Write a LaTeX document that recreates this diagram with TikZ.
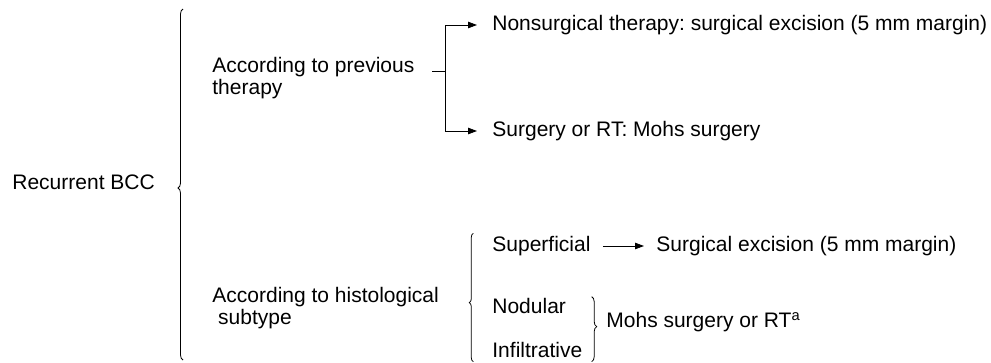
\documentclass[tikz,border=0pt]{standalone}
\usepackage{fontspec}
\setmainfont{Liberation Sans}
\frenchspacing
\usetikzlibrary{arrows.meta,decorations.pathreplacing}
\begin{document}
\begin{tikzpicture}[x=1pt,y=-1pt,line width=0.8pt,
        txt/.style={anchor=west,inner sep=0pt,align=left,font=\fontsize{21}{22}\selectfont},
        arr/.style={-{Triangle[length=9pt,width=6.5pt]}},
        brc/.style={decorate,decoration={brace,amplitude=#1}}]
    \useasboundingbox (0,0) rectangle (991,362);
    \node[txt] (bcc) at (12,182) {Recurrent BCC};
    \draw[brc=5pt,decoration={aspect=0.49}] (183,360) -- (183,9);
    \node[txt] (prev) at (212,78) {According to previous\\therapy};
    \node[txt] (histo) at (212,308) {According to histological\\ \ subtype};
    \coordinate (stub) at (432,71.7);
    \coordinate (fork) at (445,71.7);
    \node[txt] (nonsurg) at (492,25) {Nonsurgical therapy: surgical excision (5 mm margin)};
    \node[txt] (mohs) at (492,131) {Surgery or RT: Mohs surgery};
    \draw (stub) -- (fork);
    \draw[arr,shorten >=15pt] (fork) |- (nonsurg.west);
    \draw[arr,shorten >=15pt] (fork) |- (mohs.west);
    \draw[brc=4pt,decoration={aspect=0.46}] (473.3,361.7) -- (473.3,233.3);
    \node[txt] (superf) at (492,246) {Superficial};
    \node[txt] (excis) at (656,246) {Surgical excision (5 mm margin)};
    \draw[arr,shorten >=12pt] ([xshift=12pt]superf.east) -- (excis.west);
    \node[txt] (nodul) at (492,306) {Nodular};
    \node[txt] (infil) at (492,350) {Infiltrative};
    \draw[brc=5pt,decoration={aspect=0.46}] (591.7,296.7) -- (591.7,361.7);
    \node[txt] (mohsrt) at (606,322) {Mohs surgery or RT\textsuperscript{a}};
\end{tikzpicture}
\end{document}
